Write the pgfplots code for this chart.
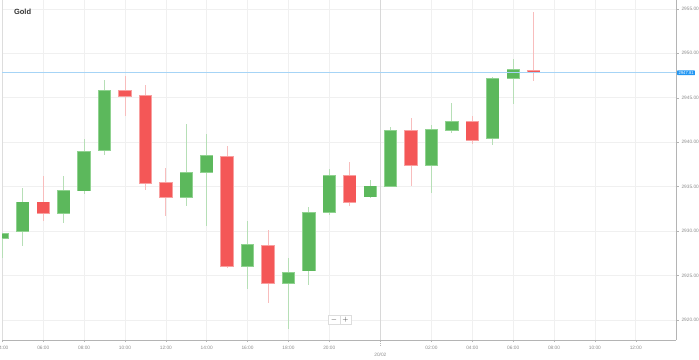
\documentclass[border=0pt]{standalone}
\usepackage{pgfplots}
\pgfplotsset{compat=1.18}
\usepackage{pgfplotstable}
\usepackage{fontspec}
\setmainfont{Liberation Sans}
\definecolor{upbody}{HTML}{5CB85C}
\definecolor{upedge}{HTML}{90D290}
\definecolor{upwick}{HTML}{B6DFB6}
\definecolor{dnbody}{HTML}{F45757}
\definecolor{dnedge}{HTML}{F8A0A0}
\definecolor{dnwick}{HTML}{F8BDBD}
\definecolor{gridc}{HTML}{F0F0F0}
\definecolor{sepc}{HTML}{D8D8D8}
\definecolor{tickc}{HTML}{8C8C8C}
\definecolor{axisc}{HTML}{B4B4B4}
\definecolor{leftc}{HTML}{DDDDDD}
\definecolor{priceline}{HTML}{A6D4F6}
\definecolor{pricebox}{HTML}{2196F3}
\definecolor{titlec}{HTML}{333333}

% x = candle index (hourly, trading hours only)
\pgfplotstableread{
x o h l c
0 2929.17 2929.80 2926.95 2929.74
1 2929.96 2934.85 2928.35 2933.27
3 2932.03 2936.20 2930.90 2934.55
4 2934.55 2940.41 2934.14 2938.98
5 2939.06 2946.99 2938.57 2945.79
9 2933.83 2942.03 2932.82 2936.58
10 2936.62 2940.90 2930.64 2938.50
12 2926.02 2931.20 2923.46 2928.46
14 2924.17 2927.03 2918.98 2925.30
15 2925.53 2932.67 2923.95 2932.11
16 2932.11 2936.95 2931.77 2936.24
18 2933.87 2935.75 2933.76 2935.08
19 2935.08 2941.69 2935.00 2941.28
21 2937.37 2941.99 2934.29 2941.39
22 2941.32 2944.47 2941.05 2942.33
24 2940.41 2947.29 2939.74 2947.14
25 2947.15 2949.37 2944.29 2948.21
}\upcandles

\pgfplotstableread{
x o h l c
2 2933.27 2936.20 2931.20 2932.03
6 2945.86 2947.44 2942.97 2945.19
7 2945.23 2946.50 2934.62 2935.38
8 2935.41 2937.14 2931.69 2933.83
11 2938.38 2939.55 2925.86 2926.09
13 2928.35 2930.11 2921.88 2924.17
17 2936.20 2937.82 2932.78 2933.20
20 2941.28 2942.71 2935.08 2937.37
23 2942.33 2943.00 2939.85 2940.26
26 2948.10 2954.63 2946.86 2947.85
}\dncandles

\pgfplotsset{candle/.style 2 args={draw=none, no marks, forget plot,
  error bars/.cd, y dir=both, y explicit, error mark=none,
  error bar style={draw=#1, line width=#2}}}

\begin{document}
\begin{tikzpicture}
\path[use as bounding box] (0,0) rectangle (699pt,359pt);
\begin{axis}[
  at={(2pt,19pt)}, anchor=south west,
  width=674pt, height=340pt, scale only axis,
  xmin=-0.02, xmax=32.97, ymin=2917.75, ymax=2956.0,
  axis x line*=bottom, axis y line*=right,
  axis line style={draw=axisc, line width=0.8pt, -},
  xtick={0,2,4,6,8,10,12,14,16,21,23,25,27,29,31},
  xticklabels={04:00,06:00,08:00,10:00,12:00,14:00,16:00,18:00,20:00,02:00,04:00,06:00,08:00,10:00,12:00},
  extra x ticks={18.5}, extra x tick labels={20/02},
  extra x tick style={grid=major, major grid style={draw=sepc, line width=0.8pt},
     major tick length=6pt, tick style={draw=axisc, dashed, dash pattern=on 1pt off 1pt},
     tick label style={yshift=-3.5pt}},
  ytick={2920,2925,...,2955},
  scaled y ticks=false,
  /pgf/number format/assume math mode=true,
  yticklabel={\pgfmathprintnumber[fixed,fixed zerofill,precision=2,1000 sep={}]{\tick}},
  grid=major, major grid style={draw=gridc, line width=0.7pt},
  tick align=outside, major tick length=2.5pt,
  tick style={draw=axisc, line width=0.5pt},
  tick label style={font=\fontsize{4.8}{5.5}\selectfont, text=tickc},
  yticklabel style={xshift=-0.5pt},
]
% left border
\draw[leftc, line width=0.8pt] (rel axis cs:0,0) -- (rel axis cs:0,1);

% wicks
\addplot[candle={upwick}{0.9pt}]
  table[x=x, y expr={(\thisrow{h}+\thisrow{l})/2}, y error expr={(\thisrow{h}-\thisrow{l})/2}] {\upcandles};
\addplot[candle={dnwick}{0.9pt}]
  table[x=x, y expr={(\thisrow{h}+\thisrow{l})/2}, y error expr={(\thisrow{h}-\thisrow{l})/2}] {\dncandles};

% bodies (edge)
\addplot[candle={upedge}{13.3pt}]
  table[x=x, y expr={(\thisrow{o}+\thisrow{c})/2}, y error expr={abs(\thisrow{c}-\thisrow{o})/2+0.06}] {\upcandles};
\addplot[candle={dnedge}{13.3pt}]
  table[x=x, y expr={(\thisrow{o}+\thisrow{c})/2}, y error expr={abs(\thisrow{c}-\thisrow{o})/2+0.06}] {\dncandles};
% bodies (fill)
\addplot[candle={upbody}{11.8pt}]
  table[x=x, y expr={(\thisrow{o}+\thisrow{c})/2}, y error expr={max(abs(\thisrow{c}-\thisrow{o})/2-0.03,0.05)}] {\upcandles};
\addplot[candle={dnbody}{11.8pt}]
  table[x=x, y expr={(\thisrow{o}+\thisrow{c})/2}, y error expr={max(abs(\thisrow{c}-\thisrow{o})/2-0.03,0.05)}] {\dncandles};

% current price line
\addplot[priceline, line width=1.1pt, forget plot] coordinates {(-0.02,2947.81) (32.97,2947.81)};
\coordinate (pl) at (axis cs:32.97,2947.81);

% title
\node[anchor=west, font=\bfseries\fontsize{7.5}{9}\selectfont, text=titlec]
  at (rel axis cs:0.0126,0.965) {Gold};

% zoom buttons
\node[draw=leftc, fill=white, minimum width=11.5pt, minimum height=9pt, inner sep=0pt,
  font=\fontsize{7}{7}\selectfont, text=titlec] at (rel axis cs:0.4926,0.0588) {$-$};
\node[draw=leftc, fill=white, minimum width=11.5pt, minimum height=9pt, inner sep=0pt,
  font=\fontsize{7}{7}\selectfont, text=titlec] at (rel axis cs:0.5096,0.0588) {$+$};
\end{axis}
\node[anchor=west, fill=pricebox, text=white, font=\fontsize{4.2}{4.5}\selectfont,
  inner xsep=1.3pt, inner ysep=0.9pt, rounded corners=0.6pt, xshift=1pt] at (pl) {2947.81};
\end{tikzpicture}
\end{document}
